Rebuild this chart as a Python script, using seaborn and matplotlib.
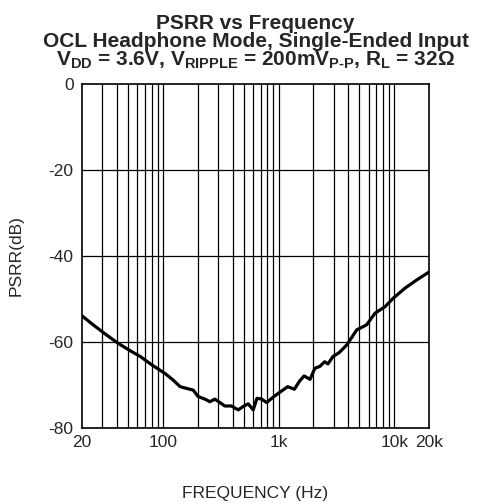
import numpy as np
import pandas as pd
import seaborn as sns
import matplotlib.pyplot as plt
from matplotlib.ticker import FixedLocator, NullLocator

# values
freq_hz = [20, 25, 32, 41, 52, 64, 80, 104, 122, 141, 160, 183, 202, 231, 255,
           282, 311, 343, 392, 420, 449, 495, 547, 604, 651, 714, 789, 839, 893,
           1001, 1090, 1200, 1370, 1510, 1660, 1870, 2060, 2270, 2500, 2670, 2950,
           3330, 3880, 4730, 5770, 6810, 8310, 9800, 12330, 15550, 20000]
psrr_db = [-53.9, -56.0, -58.2, -60.3, -62.0, -63.4, -65.3, -67.3, -68.8, -70.4,
           -70.8, -71.2, -72.7, -73.3, -73.9, -73.3, -74.1, -74.9, -74.9, -75.4,
           -75.8, -75.0, -74.4, -75.8, -73.1, -73.3, -74.1, -73.5, -72.9, -71.9,
           -71.2, -70.4, -71.0, -69.2, -67.9, -68.7, -66.1, -65.7, -64.6, -65.1,
           -63.4, -62.5, -60.7, -57.2, -56.0, -53.3, -51.8, -49.8, -47.5, -45.6,
           -43.7]

x_ticks = [20, 100, 1000, 10000, 20000]
x_ticklabels = ['20', '100', '1k', '10k', '20k']
y_ticks = [0, -20, -40, -60, -80]

df = pd.DataFrame({'freq': freq_hz, 'psrr': psrr_db})

sns.set_style('white')
plt.rcParams['font.family'] = ['Liberation Sans', 'DejaVu Sans']
plt.rcParams['axes.unicode_minus'] = False
plt.rcParams['mathtext.fontset'] = 'custom'
plt.rcParams['mathtext.rm'] = 'Liberation Sans:bold'
plt.rcParams['mathtext.it'] = 'Liberation Sans:bold'
plt.rcParams['mathtext.bf'] = 'Liberation Sans:bold'

fig = plt.figure(figsize=(4.79, 5.04), dpi=100)
ax = fig.add_axes([0.171, 0.151, 0.725, 0.682])

sns.lineplot(data=df, x='freq', y='psrr', color='black', linewidth=2.3, ax=ax)

ax.set_xscale('log')
ax.set_xlim(20, 20000)
ax.set_ylim(-80, 0)

# grid lines at every minor decade step
grid_x = [m * 10 ** e for e in range(1, 5) for m in range(1, 10) if 20 < m * 10 ** e < 20000]
for gx in grid_x:
    ax.axvline(gx, color='black', linewidth=0.9, zorder=0)
for gy in [-20, -40, -60]:
    ax.axhline(gy, color='black', linewidth=0.9, zorder=0)

ax.xaxis.set_major_locator(FixedLocator(x_ticks))
ax.xaxis.set_minor_locator(NullLocator())
ax.set_xticklabels(x_ticklabels)
ax.set_yticks(y_ticks)
ax.tick_params(length=0, labelsize=12.5)
ax.tick_params(axis='x', pad=5)
ax.tick_params(axis='y', pad=6)

for s in ax.spines.values():
    s.set_color('black')
    s.set_linewidth(1.2)

ax.set_xlabel('FREQUENCY (Hz)', fontsize=12.5, labelpad=26)
ax.set_ylabel('PSRR(dB)', fontsize=12.5, labelpad=18)

cx = 0.171 + 0.725 / 2
fig.text(cx, 0.972, 'PSRR vs Frequency', ha='center', va='top',
         fontsize=15, fontweight='bold')
fig.text(cx, 0.937, 'OCL Headphone Mode, Single-Ended Input', ha='center', va='top',
         fontsize=15, fontweight='bold')
fig.text(cx, 0.902,
         r'$\mathrm{V_{DD}}$ = 3.6V, $\mathrm{V_{RIPPLE}}$ = 200m$\mathrm{V_{P\text{-}P}}$, $\mathrm{R_{L}}$ = 32Ω',
         ha='center', va='top', fontsize=15, fontweight='bold')

fig.savefig('out.png', dpi=100)
